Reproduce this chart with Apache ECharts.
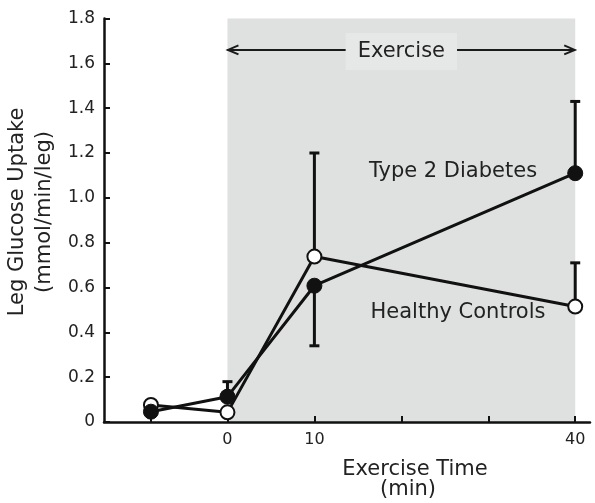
<!DOCTYPE html>
<html><head><meta charset="utf-8">
<script src="https://cdn.jsdelivr.net/npm/echarts@6/dist/echarts.min.js"></script>
<style>html,body{margin:0;padding:0;background:#fff}#c{width:595px;height:503px}</style>
</head><body><div id="c"></div>
<script>
// ---- data ----
const timePoints = [-8.8, 0, 10, 40];
const diabetesValues = [0.046, 0.113, 0.608, 1.11];
const healthyValues = [0.076, 0.043, 0.738, 0.515];
const diabetesErrEnds = [null, 0.18, 0.34, 1.43];
const healthyErrEnds = [null, null, 1.20, 0.71];
const xTickValues = [-8.8, 0, 10, 20, 30, 40];
const xLabelValues = [0, 10, 40];
const exerciseSpan = [0, 40];
const arrowLevel = 1.66;
const yMin = 0, yMax = 1.8, yStep = 0.2;
const xMin = -14.2, xMax = 41.7;

const FONT = '"DejaVu Sans", Verdana, sans-serif';
const INK = '#222';

const pairs = (vals) => timePoints.map((t, i) => [t, vals[i]]);
const errs = (vals, ends) => timePoints.map((t, i) => ends[i] == null ? null : [t, vals[i], ends[i]]).filter(Boolean);

const chart = echarts.init(document.getElementById('c'), null, {renderer: 'canvas'});

function errRender(params, api) {
  const p0 = api.coord([api.value(0), api.value(1)]);
  const p1 = api.coord([api.value(0), api.value(2)]);
  const st = {stroke: '#111', lineWidth: 3, fill: null};
  return {type: 'group', children: [
    {type: 'line', shape: {x1: p0[0], y1: p0[1], x2: p1[0], y2: p1[1]}, style: st},
    {type: 'line', shape: {x1: p1[0] - 5, y1: p1[1], x2: p1[0] + 5, y2: p1[1]}, style: st}
  ]};
}

const option = {
  animation: false,
  backgroundColor: '#fff',
  grid: {left: 104, right: 5, top: 18.5, bottom: 81, containLabel: false, outerBoundsMode: 'none'},
  xAxis: {
    type: 'value', min: xMin, max: xMax, z: 2,
    splitLine: {show: false},
    axisLine: {show: true, onZero: false, lineStyle: {color: '#111', width: 2.5}},
    axisTick: {show: true, inside: true, length: 6, customValues: xTickValues, lineStyle: {color: '#111', width: 2}},
    axisLabel: {customValues: xLabelValues, color: INK, fontFamily: FONT, fontSize: 16, margin: 10}
  },
  yAxis: {
    type: 'value', min: yMin, max: yMax, interval: yStep, z: 2,
    splitLine: {show: false},
    axisLine: {show: true, onZero: false, lineStyle: {color: '#111', width: 2.5}},
    axisTick: {show: true, inside: true, length: 6, lineStyle: {color: '#111', width: 2}},
    axisLabel: {color: INK, fontFamily: FONT, fontSize: 17, margin: 9,
      formatter: v => v === 0 ? '0' : v.toFixed(1)}
  },
  series: [
    {
      type: 'custom', z: 1, silent: true, data: [exerciseSpan],
      renderItem: (params, api) => {
        const a = api.coord([api.value(0), yMax]);
        const b = api.coord([api.value(1), yMin]);
        return {type: 'rect', shape: {x: a[0], y: a[1], width: b[0] - a[0], height: b[1] - a[1]},
          style: {fill: '#dfe0e0'}};
      }
    },
    {
      type: 'custom', z: 3, silent: true, data: [[exerciseSpan[0], exerciseSpan[1], arrowLevel]],
      renderItem: (params, api) => {
        const a = api.coord([api.value(0), api.value(2)]);
        const b = api.coord([api.value(1), api.value(2)]);
        const mid = (a[0] + b[0]) / 2;
        const st = {stroke: '#1a1a1a', lineWidth: 2, fill: null};
        return {type: 'group', children: [
          {type: 'line', shape: {x1: a[0], y1: a[1], x2: b[0], y2: b[1]}, style: st},
          {type: 'polyline', shape: {points: [[a[0] + 11, a[1] - 4.5], [a[0] + 0.5, a[1]], [a[0] + 11, a[1] + 4.5]]}, style: st},
          {type: 'polyline', shape: {points: [[b[0] - 11, b[1] - 4.5], [b[0] - 0.5, b[1]], [b[0] - 11, b[1] + 4.5]]}, style: st},
          {type: 'text', x: mid, y: a[1] + 1.5, z2: 10, style: {text: 'Exercise', fill: INK, font: '21px ' + FONT,
            align: 'center', verticalAlign: 'middle', backgroundColor: '#e6e7e7', padding: [8, 12, 8, 12]}}
        ]};
      }
    },
    {type: 'custom', z: 3, silent: true, data: errs(healthyValues, healthyErrEnds), renderItem: errRender},
    {type: 'custom', z: 3, silent: true, data: errs(diabetesValues, diabetesErrEnds), renderItem: errRender},
    {
      name: 'Healthy Controls', type: 'line', z: 4, data: pairs(healthyValues),
      symbol: 'circle', symbolSize: 14,
      lineStyle: {color: '#111', width: 3},
      itemStyle: {color: '#fff', borderColor: '#111', borderWidth: 2}
    },
    {
      name: 'Type 2 Diabetes', type: 'line', z: 5, data: pairs(diabetesValues),
      symbol: 'circle', symbolSize: 15,
      lineStyle: {color: '#111', width: 3},
      itemStyle: {color: '#111', borderColor: '#111', borderWidth: 1}
    }
  ],
  graphic: [
    {type: 'text', x: 31, y: 212, rotation: Math.PI / 2, z: 10,
      style: {text: 'Leg Glucose Uptake\n(mmol/min/leg)', font: '21px ' + FONT, fill: INK,
        align: 'center', verticalAlign: 'middle', lineHeight: 27}},
    {type: 'text', x: 415, y: 470, z: 10,
      style: {text: 'Exercise Time', font: '21px ' + FONT, fill: INK, align: 'center', verticalAlign: 'middle'}},
    {type: 'text', x: 408, y: 490, z: 10,
      style: {text: '(min)', font: '21px ' + FONT, fill: INK, align: 'center', verticalAlign: 'middle'}},
    {type: 'text', x: 453, y: 172, z: 10,
      style: {text: 'Type 2 Diabetes', font: '21px ' + FONT, fill: INK, align: 'center', verticalAlign: 'middle'}},
    {type: 'text', x: 458, y: 313, z: 10,
      style: {text: 'Healthy Controls', font: '21px ' + FONT, fill: INK, align: 'center', verticalAlign: 'middle'}}
  ]
};
chart.setOption(option);
</script>
</body></html>
